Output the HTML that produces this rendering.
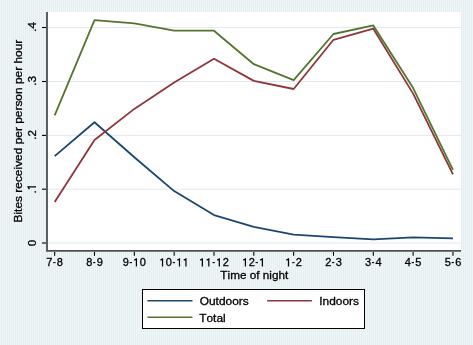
<!DOCTYPE html>
<html><head><meta charset="utf-8"><style>
html,body{margin:0;padding:0;}
body{width:473px;height:345px;overflow:hidden;background:#e9f0f3;
background-image:repeating-linear-gradient(90deg,#eef7f1 0px,#eef7f1 1px,#e6edf5 1px,#e6edf5 2px);}
svg{display:block;font-family:"Liberation Sans",sans-serif;font-size:11.9px;fill:#000;will-change:transform;}
text{stroke:#000;stroke-width:0.3px;font-kerning:none;}
.t{font-size:11.0px;}
.yt{font-size:11.7px;}
</style></head><body>
<svg width="473" height="345" viewBox="0 0 473 345">
<rect x="48" y="12" width="413" height="238" fill="#fff"/>
<line x1="48" x2="461" y1="243.0" y2="243.0" stroke="#e0e9ed" stroke-width="1"/>
<line x1="48" x2="461" y1="189.2" y2="189.2" stroke="#e0e9ed" stroke-width="1"/>
<line x1="48" x2="461" y1="135.4" y2="135.4" stroke="#e0e9ed" stroke-width="1"/>
<line x1="48" x2="461" y1="81.5" y2="81.5" stroke="#e0e9ed" stroke-width="1"/>
<line x1="48" x2="461" y1="27.5" y2="27.5" stroke="#e0e9ed" stroke-width="1"/>
<polyline points="54.67,156.10 94.50,122.20 134.33,157.30 174.16,191.10 213.99,215.10 253.82,226.90 293.65,234.70 333.48,237.10 373.31,239.40 413.14,237.30 452.97,238.40" fill="none" stroke="#1a476f" stroke-width="1.8" stroke-linejoin="round"/>
<polyline points="54.67,201.90 94.50,140.00 134.33,108.90 174.16,82.60 213.99,58.80 253.82,80.90 293.65,89.00 333.48,39.80 373.31,28.70 413.14,93.60 452.97,174.40" fill="none" stroke="#90353b" stroke-width="1.8" stroke-linejoin="round"/>
<polyline points="54.67,115.40 94.50,20.10 134.33,23.40 174.16,30.70 213.99,30.70 253.82,64.20 293.65,80.10 333.48,34.00 373.31,25.40 413.14,88.10 452.97,169.90" fill="none" stroke="#55752f" stroke-width="1.8" stroke-linejoin="round"/>
<rect x="46" y="12" width="2" height="240" fill="#5a5f60"/>
<rect x="46" y="250" width="415" height="1" fill="#4c4f50"/>
<rect x="46" y="251" width="415" height="1" fill="#767b7c"/>
<line x1="42" x2="46" y1="243.0" y2="243.0" stroke="#000" stroke-width="1.1"/>
<line x1="42" x2="46" y1="189.2" y2="189.2" stroke="#000" stroke-width="1.1"/>
<line x1="42" x2="46" y1="135.4" y2="135.4" stroke="#000" stroke-width="1.1"/>
<line x1="42" x2="46" y1="81.5" y2="81.5" stroke="#000" stroke-width="1.1"/>
<line x1="42" x2="46" y1="27.5" y2="27.5" stroke="#000" stroke-width="1.1"/>
<line x1="54.67" x2="54.67" y1="252" y2="255.8" stroke="#000" stroke-width="1.1"/>
<line x1="94.50" x2="94.50" y1="252" y2="255.8" stroke="#000" stroke-width="1.1"/>
<line x1="134.33" x2="134.33" y1="252" y2="255.8" stroke="#000" stroke-width="1.1"/>
<line x1="174.16" x2="174.16" y1="252" y2="255.8" stroke="#000" stroke-width="1.1"/>
<line x1="213.99" x2="213.99" y1="252" y2="255.8" stroke="#000" stroke-width="1.1"/>
<line x1="253.82" x2="253.82" y1="252" y2="255.8" stroke="#000" stroke-width="1.1"/>
<line x1="293.65" x2="293.65" y1="252" y2="255.8" stroke="#000" stroke-width="1.1"/>
<line x1="333.48" x2="333.48" y1="252" y2="255.8" stroke="#000" stroke-width="1.1"/>
<line x1="373.31" x2="373.31" y1="252" y2="255.8" stroke="#000" stroke-width="1.1"/>
<line x1="413.14" x2="413.14" y1="252" y2="255.8" stroke="#000" stroke-width="1.1"/>
<line x1="452.97" x2="452.97" y1="252" y2="255.8" stroke="#000" stroke-width="1.1"/>
<text class="t" x="46.37" y="266.40">7</text>
<rect x="53.22" y="262.05" width="2.31" height="1.1" fill="#000"/>
<text class="t" x="56.85" y="266.40">8</text>
<text class="t" x="86.20" y="266.40">8</text>
<rect x="93.05" y="262.05" width="2.31" height="1.1" fill="#000"/>
<text class="t" x="96.68" y="266.40">9</text>
<text class="t" x="122.80" y="266.40">9</text>
<rect x="129.65" y="262.05" width="2.31" height="1.1" fill="#000"/>
<path d="M136.41 266.40V258.97L134.27 260.13" fill="none" stroke="#000" stroke-width="1.21" stroke-linejoin="miter"/>
<text class="t" x="139.75" y="266.40">0</text>
<path d="M162.53 266.40V258.97L160.38 260.13" fill="none" stroke="#000" stroke-width="1.21" stroke-linejoin="miter"/>
<text class="t" x="165.86" y="266.40">0</text>
<rect x="172.71" y="262.05" width="2.31" height="1.1" fill="#000"/>
<path d="M179.48 266.40V258.97L177.33 260.13" fill="none" stroke="#000" stroke-width="1.21" stroke-linejoin="miter"/>
<path d="M185.94 266.40V258.97L183.80 260.13" fill="none" stroke="#000" stroke-width="1.21" stroke-linejoin="miter"/>
<path d="M202.36 266.40V258.97L200.21 260.13" fill="none" stroke="#000" stroke-width="1.21" stroke-linejoin="miter"/>
<path d="M208.83 266.40V258.97L206.68 260.13" fill="none" stroke="#000" stroke-width="1.21" stroke-linejoin="miter"/>
<rect x="212.54" y="262.05" width="2.31" height="1.1" fill="#000"/>
<path d="M219.31 266.40V258.97L217.16 260.13" fill="none" stroke="#000" stroke-width="1.21" stroke-linejoin="miter"/>
<text class="t" x="222.64" y="266.40">2</text>
<path d="M245.42 266.40V258.97L243.28 260.13" fill="none" stroke="#000" stroke-width="1.21" stroke-linejoin="miter"/>
<text class="t" x="248.75" y="266.40">2</text>
<rect x="255.61" y="262.05" width="2.31" height="1.1" fill="#000"/>
<path d="M262.37 266.40V258.97L260.23 260.13" fill="none" stroke="#000" stroke-width="1.21" stroke-linejoin="miter"/>
<path d="M288.49 266.40V258.97L286.34 260.13" fill="none" stroke="#000" stroke-width="1.21" stroke-linejoin="miter"/>
<rect x="292.20" y="262.05" width="2.31" height="1.1" fill="#000"/>
<text class="t" x="295.83" y="266.40">2</text>
<text class="t" x="325.18" y="266.40">2</text>
<rect x="332.03" y="262.05" width="2.31" height="1.1" fill="#000"/>
<text class="t" x="335.66" y="266.40">3</text>
<text class="t" x="365.01" y="266.40">3</text>
<rect x="371.86" y="262.05" width="2.31" height="1.1" fill="#000"/>
<text class="t" x="375.49" y="266.40">4</text>
<text class="t" x="404.84" y="266.40">4</text>
<rect x="411.69" y="262.05" width="2.31" height="1.1" fill="#000"/>
<text class="t" x="415.32" y="266.40">5</text>
<text class="t" x="444.67" y="266.40">5</text>
<rect x="451.52" y="262.05" width="2.31" height="1.1" fill="#000"/>
<text class="t" x="455.15" y="266.40">6</text>
<g transform="translate(36.0 243.00) rotate(-90)"><text class="yt" x="-3.25" y="0.00">0</text></g>
<g transform="translate(36.0 188.60) rotate(-90)"><text class="yt" x="-4.88" y="0.00">.</text><path d="M1.71 0.00V-7.90L-0.58 -6.67" fill="none" stroke="#000" stroke-width="1.29" stroke-linejoin="miter"/></g>
<g transform="translate(36.0 134.80) rotate(-90)"><text class="yt" x="-4.88" y="0.00">.</text><text class="yt" x="-1.63" y="0.00">2</text></g>
<g transform="translate(36.0 80.90) rotate(-90)"><text class="yt" x="-4.88" y="0.00">.</text><text class="yt" x="-1.63" y="0.00">3</text></g>
<g transform="translate(36.0 26.90) rotate(-90)"><text class="yt" x="-4.88" y="0.00">.</text><text class="yt" x="-1.63" y="0.00">4</text></g>
<text transform="translate(22.0 131.1) rotate(-90) scale(1.028 1)" style="font-size:11.6px" text-anchor="middle">Bites received per person per hour</text>
<text transform="translate(254.3 279.1) scale(1.04 1)" style="font-size:11.3px" text-anchor="middle">Time of night</text>
<rect x="142.5" y="289.5" width="222" height="39" fill="#fff" stroke="#000" stroke-width="1"/>
<line x1="147.4" x2="192.5" y1="300.7" y2="300.7" stroke="#1a476f" stroke-width="1.55"/>
<line x1="267.1" x2="311.9" y1="300.7" y2="300.7" stroke="#90353b" stroke-width="1.55"/>
<line x1="147.4" x2="192.5" y1="317.2" y2="317.2" stroke="#55752f" stroke-width="1.55"/>
<text transform="translate(199.7 304.7) scale(1.055 1)" style="font-size:11.3px">Outdoors</text>
<text transform="translate(319.3 304.7) scale(1.055 1)" style="font-size:11.3px">Indoors</text>
<text transform="translate(199.2 321.5) scale(1.055 1)" style="font-size:11.3px">Total</text>
</svg>
</body></html>
